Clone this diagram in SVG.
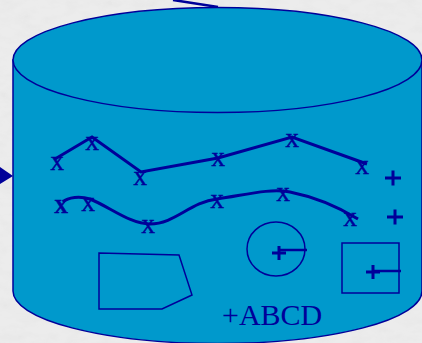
<svg xmlns="http://www.w3.org/2000/svg" width="422" height="343" viewBox="0 0 422 343">
<defs>
<style>
.ink{stroke:#000099;fill:none}
.x{font-family:"Liberation Serif","Times New Roman",serif;font-size:19px;fill:#000099;text-anchor:middle;stroke:#000099;stroke-width:0.6}
.plus{stroke:#000099;stroke-width:3;fill:none}
</style>
<filter id="marble" x="0" y="0" width="100%" height="100%">
<feTurbulence type="fractalNoise" baseFrequency="0.06 0.12" numOctaves="3" seed="4"/>
<feColorMatrix type="matrix" values="0 0 0 0 0.8  0 0 0 0 0.8  0 0 0 0 0.8  0 0 0 -2 1.3"/>
</filter>
</defs>
<rect width="422" height="343" fill="#ececec"/>
<rect width="422" height="343" filter="url(#marble)" opacity="0.9"/>
<g id="connectors">
<line x1="173" y1="0" x2="218" y2="7" stroke="#000099" stroke-width="2.5"/>
<polygon points="0,167 13,176 0,184" fill="#000099"/>
</g>
<g id="cylinder">
<path d="M13,60 L13,291 A204.5,52.5 0 0 0 422,291 L422,60 Z" fill="#0099cc" stroke="#000099" stroke-width="1.5"/>
<ellipse cx="217.5" cy="60" rx="204.5" ry="52.5" fill="#0099cc" stroke="#000099" stroke-width="1.5"/>
</g>
<g id="line1">
<polyline class="ink" stroke-width="3" points="55,159 92,137 141,172 218,158 292,137 367,164"/>
<text class="x" x="57" y="170">X</text>
<text class="x" x="92" y="150">X</text>
<text class="x" x="140" y="185">X</text>
<text class="x" x="218" y="166">X</text>
<text class="x" x="292" y="147">X</text>
<text class="x" x="362" y="174">X</text>
</g>
<g id="line2">
<path class="ink" stroke-width="3" d="M63,202 C68,197 80,196 90,199 C110,207 130,224 150,224 C175,224 190,202 217,199 C245,195 270,188 290,192 C315,197 340,208 358,219"/>
<text class="x" x="61" y="213" font-weight="bold" stroke-width="1.5">X</text>
<text class="x" x="88" y="211">X</text>
<text class="x" x="148" y="233">X</text>
<text class="x" x="217" y="208">X</text>
<text class="x" x="283" y="201">X</text>
<text class="x" x="350" y="226">X</text>
</g>
<g id="plus1"><path class="plus" d="M385,178 H401 M393,170.5 V185.5"/></g>
<g id="plus2"><path class="plus" d="M387,217 H403 M395,209.5 V224.5"/></g>
<g id="circle">
<ellipse cx="276" cy="249" rx="29" ry="27" class="ink" stroke-width="1.5"/>
<path class="plus" d="M272,253 H286 M279,246 V260"/>
<line x1="279" y1="250" x2="307" y2="250" stroke="#000099" stroke-width="2.5"/>
</g>
<g id="square">
<rect x="342" y="243" width="57" height="50" class="ink" stroke-width="1.5"/>
<path class="plus" d="M366,272 H380 M373,265 V279"/>
<line x1="373" y1="271" x2="401" y2="271" stroke="#000099" stroke-width="2.5"/>
</g>
<g id="polygon">
<polygon points="99,253 179,255 192,295 162,309 99,309" class="ink" stroke-width="1.5"/>
</g>
<g id="label">
<text x="222" y="325" font-family="'Liberation Serif','Times New Roman',serif" font-size="30" fill="#000099">+ABCD</text>
</g>
</svg>
